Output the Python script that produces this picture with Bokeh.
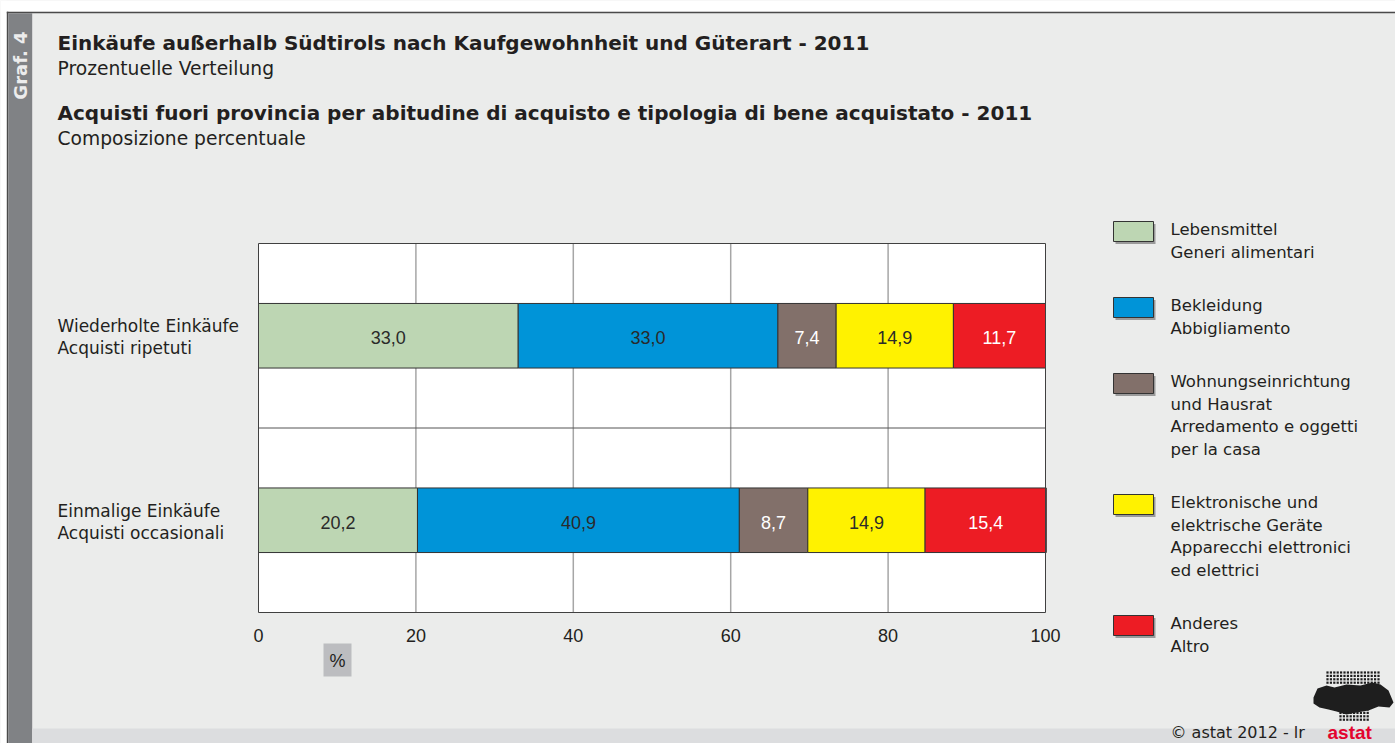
import numpy as np
from bokeh.plotting import figure
from bokeh.models import ColumnDataSource, FixedTicker, Range1d, LinearAxis
from bokeh.core.properties import value
from bokeh.embed import file_html
from bokeh.resources import INLINE

# ---------------- data ----------------
graf_label = "Graf. 4"
title_de = "Einkäufe außerhalb Südtirols nach Kaufgewohnheit und Güterart - 2011"
subtitle_de = "Prozentuelle Verteilung"
title_it = "Acquisti fuori provincia per abitudine di acquisto e tipologia di bene acquistato - 2011"
subtitle_it = "Composizione percentuale"

categories_de = ["Wiederholte Einkäufe", "Einmalige Einkäufe"]
categories_it = ["Acquisti ripetuti", "Acquisti occasionali"]

series_keys = ["lebensmittel", "bekleidung", "wohnung", "elektronik", "anderes"]
series_names = [
    "Lebensmittel\nGeneri alimentari",
    "Bekleidung\nAbbigliamento",
    "Wohnungseinrichtung\nund Hausrat\nArredamento e oggetti\nper la casa",
    "Elektronische und\nelektrische Geräte\nApparecchi elettronici\ned elettrici",
    "Anderes\nAltro",
]
lebensmittel = [33.0, 20.2]
bekleidung = [33.0, 40.9]
wohnung = [7.4, 8.7]
elektronik = [14.9, 14.9]
anderes = [11.7, 15.4]

colors = ["#bdd6b3", "#0094d8", "#82706a", "#fff200", "#ed1c24"]
label_colors = ["#2a2a2a", "#2a2a2a", "#ffffff", "#2a2a2a", "#ffffff"]
x_ticks = [0, 20, 40, 60, 80, 100]
unit_label = "%"
footer = "©  astat 2012 - lr"
logo_text = "astat"

WORD_FONT = "DejaVu Sans"
NUM_FONT = "Liberation Sans"
TXT = "#231f20"
BG = "#ebeceb"
BL = -6.5   # baseline correction for alphabetic text (pixels, up)

# ---------------- page layout (pixels) ----------------
W, H = 1395, 743
PL, PR, PT, PB = 258, 1045, 243, 612          # plot area
n = len(categories_de)
ypos = [n - 0.5 - i for i in range(n)]
XMIN, XMAX = x_ticks[0], x_ticks[-1]
ppx = (PR - PL) / (XMAX - XMIN)
ppy = (PB - PT) / n

p = figure(width=W, height=H, output_backend="svg", toolbar_location=None,
           x_range=Range1d(0, W), y_range=Range1d(H, 0),
           x_axis_location=None, y_axis_location=None,
           min_border=0, min_border_left=0, min_border_right=0,
           min_border_top=0, min_border_bottom=0)
p.outline_line_color = None
p.background_fill_color = BG
p.border_fill_color = BG
p.grid.visible = False
p.extra_x_ranges = {"pct": Range1d(XMIN - PL / ppx, XMAX + (W - PR) / ppx)}
p.extra_y_ranges = {"cat": Range1d(-(H - PB) / ppy, n + PT / ppy)}
C = dict(x_range_name="pct", y_range_name="cat")

# ---------------- page frame decorations ----------------
p.quad(left=[0], right=[W], top=[0], bottom=[11.3], fill_color="#ffffff", line_color=None)
p.quad(left=[0], right=[6.3], top=[0], bottom=[H], fill_color="#ffffff", line_color=None)
p.quad(left=[6.3], right=[W], top=[11.3], bottom=[12.8], fill_color="#4a4a4a", line_color=None)
p.quad(left=[6.3], right=[7.8], top=[11.3], bottom=[H], fill_color="#4a4a4a", line_color=None)
p.quad(left=[7.8], right=[31.7], top=[12.8], bottom=[H], fill_color="#808285", line_color=None)
p.quad(left=[31.7], right=[W], top=[728], bottom=[H], fill_color="#dcdddf", line_color=None)
p.text(x=[20], y=[65], text=[graf_label], angle=np.pi / 2, text_align="center",
       text_baseline="middle", text_font=value(WORD_FONT), text_font_style="bold",
       text_font_size="18px", text_color="#ececec")

# titles
p.text(x=[57, 57], y=[49 + BL, 119 + BL], text=[title_de, title_it], text_font=value(WORD_FONT),
       text_font_style="bold", text_font_size="20px", text_color=TXT,
       text_baseline="alphabetic")
p.text(x=[57, 57], y=[74 + BL, 144 + BL], text=[subtitle_de, subtitle_it],
       text_font=value(WORD_FONT), text_font_size="18.7px", text_color=TXT,
       text_baseline="alphabetic")

# ---------------- chart ----------------
p.quad(left=[XMIN], right=[XMAX], bottom=[0], top=[n], fill_color="#ffffff",
       line_color=None, **C)
inner = x_ticks[1:-1]
p.segment(x0=inner, x1=inner, y0=[0] * len(inner), y1=[n] * len(inner),
          line_color="#a6a6a6", line_width=1.5, **C)
bounds = list(range(1, n))
p.segment(x0=[XMIN] * len(bounds), x1=[XMAX] * len(bounds), y0=bounds, y1=bounds,
          line_color="#555555", line_width=1, **C)

data = dict(y=ypos, lebensmittel=lebensmittel, bekleidung=bekleidung,
            wohnung=wohnung, elektronik=elektronik, anderes=anderes)
src = ColumnDataSource(data)
p.hbar_stack(series_keys, y="y", height=0.35, color=colors, source=src,
             line_color="#333333", line_width=1, **C)
p.quad(left=[XMIN], right=[XMAX], bottom=[0], top=[n], fill_color=None,
       line_color="#404040", line_width=1, **C)

# value labels
vals = np.array([lebensmittel, bekleidung, wohnung, elektronik, anderes])
cum = np.cumsum(vals, axis=0)
centers = cum - vals / 2
tx, ty, tt, tc = [], [], [], []
for s in range(vals.shape[0]):
    for c in range(n):
        tx.append(centers[s, c])
        ty.append(ypos[c])
        tt.append(f"{vals[s, c]:.1f}".replace(".", ","))
        tc.append(label_colors[s])
lsrc = ColumnDataSource(dict(x=tx, y=ty, t=tt, c=tc))
p.text(x="x", y="y", text="t", text_color="c", source=lsrc,
       text_align="center", text_baseline="middle", y_offset=2,
       text_font=value(NUM_FONT), text_font_size="18px", **C)

# category labels (two lines each)
p.text(x=[57] * n, y=ypos, text=categories_de, text_baseline="alphabetic", y_offset=-3 + BL,
       text_font=value(WORD_FONT), text_font_size="17px", text_color=TXT,
       y_range_name="cat")
p.text(x=[57] * n, y=ypos, text=categories_it, text_baseline="alphabetic", y_offset=19 + BL,
       text_font=value(WORD_FONT), text_font_size="17px", text_color=TXT,
       y_range_name="cat")

# x axis at the bottom of the plot area
ax = LinearAxis(x_range_name="pct", fixed_location=PB, ticker=FixedTicker(ticks=x_ticks))
ax.axis_line_color = None
ax.major_tick_line_color = None
ax.minor_tick_line_color = None
ax.major_tick_out = 0
ax.major_tick_in = 0
ax.major_label_standoff = 16
ax.major_label_text_font = NUM_FONT
ax.major_label_text_font_size = "18px"
ax.major_label_text_color = TXT
p.add_layout(ax, "below")

# unit box
p.quad(left=[323], right=[351], top=[643], bottom=[676], fill_color="#bcbdc0", line_color=None)
p.text(x=[337], y=[660], text=[unit_label], text_align="center", text_baseline="middle",
       text_font=value(NUM_FONT), text_font_size="18px", text_color=TXT)

# ---------------- legend ----------------
top = 221.0
sw_t, lx, ly, lt = [], [], [], []
for k, name in enumerate(series_names):
    lines = name.split("\n")
    sw_t.append(top)
    for j, ln in enumerate(lines):
        lx.append(1170)
        ly.append(top + 14.5 + 22.5 * j + BL)
        lt.append(ln)
    top += 22.5 * len(lines) + 31
sw_t = np.array(sw_t)
p.quad(left=[1115] * len(sw_t), right=[1155] * len(sw_t), top=sw_t + 2.5, bottom=sw_t + 22.5,
       fill_color="#9a9a9a", line_color=None)
p.quad(left=[1113] * len(sw_t), right=[1153] * len(sw_t), top=sw_t, bottom=sw_t + 20,
       fill_color=colors, line_color="#333333", line_width=1)
p.text(x=lx, y=ly, text=lt, text_baseline="alphabetic", text_font=value(WORD_FONT),
       text_font_size="16.5px", text_color=TXT)

# ---------------- footer and logo ----------------
p.text(x=[1170], y=[738.5 + BL], text=[footer], text_baseline="alphabetic",
       text_font=value(WORD_FONT), text_font_size="16px", text_color=TXT)
dx, dy = [], []
for r in range(4):
    for c in range(16):
        dx.append(1327 + c * 3.4)
        dy.append(672 + r * 3.4)
for r in range(4):
    for c in range(9):
        dx.append(1340 + c * 3.4)
        dy.append(709 + r * 3.4)
p.rect(x=dx, y=dy, width=2.2, height=2.2, fill_color="#1e1e1e", line_color=None)
logo_x = [1313, 1317, 1326, 1334, 1346, 1360, 1372, 1380, 1388, 1393, 1389, 1378, 1368,
          1356, 1346, 1336, 1328, 1319, 1313]
logo_y = [697, 688, 685, 687, 684, 685, 682, 684, 690, 702, 707, 706, 710, 712, 714,
          711, 709, 707, 703]
p.patch(x=logo_x, y=logo_y, fill_color="#1e1e1e", line_color=None)
p.text(x=[1327], y=[738.5 + BL], text=[logo_text], text_baseline="alphabetic",
       text_font=value(NUM_FONT), text_font_style="bold", text_font_size="19px",
       text_color="#e3032d")

open("out.html", "w").write(file_html(p, INLINE))
